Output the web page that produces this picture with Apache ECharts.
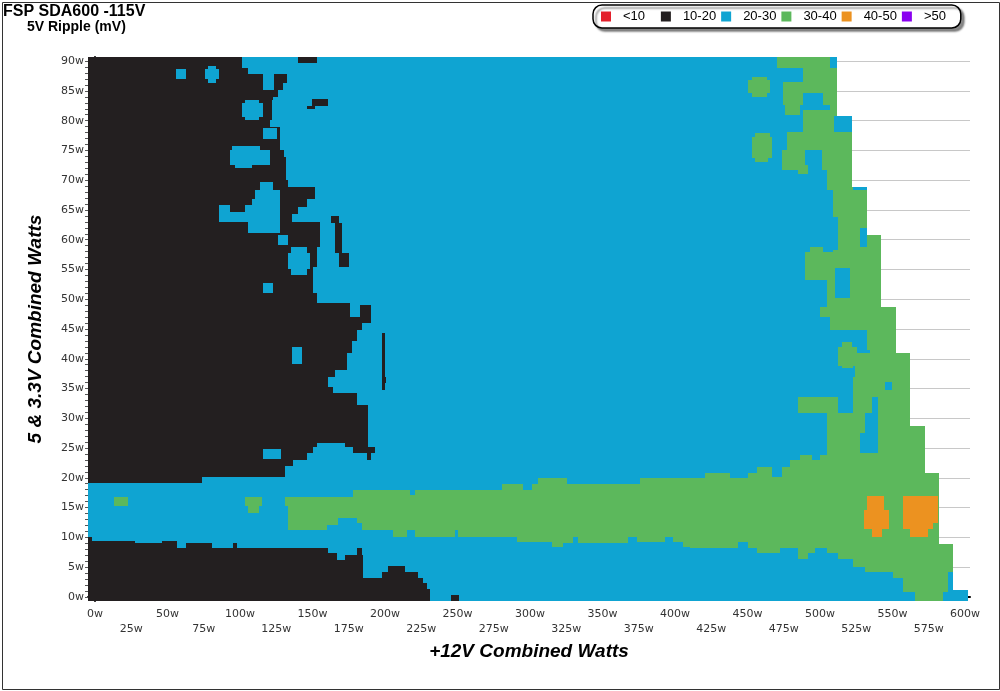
<!DOCTYPE html>
<html>
<head>
<meta charset="utf-8">
<script src="https://cdn.jsdelivr.net/npm/echarts@6/dist/echarts.min.js"></script>
<style>
html,body{margin:0;padding:0;background:#fff;}
#c{width:1000px;height:691px;}
</style>
</head>
<body>
<div id="c"></div>
<script>
// ---- categories / legend ----
const categories = ['<10', '10-20', '20-30', '30-40', '40-50', '>50'];
const catColors = ['#e3202c', '#231f20', '#0fa4d2', '#5cb85c', '#ec9220', '#8a00f0'];

// ---- tick labels ----
const xLabelValues = [0,25,50,75,100,125,150,175,200,225,250,275,300,325,350,375,400,425,450,475,500,525,550,575,600];
const yLabelValues = [0,5,10,15,20,25,30,35,40,45,50,55,60,65,70,75,80,85,90];

// ---- cells: [x0 (W), x1 (W), y0 (W), y1 (W)] ----
// 20-30 mV region (base of measured area)
const blueBase = [
  [-4.8, 511.5, 80.8, 90.7],
  [-4.8, 521.8, 68.9, 80.8],
  [-4.8, 532.2, 60.8, 68.9],
  [-4.8, 542.1, 48.7, 60.8],
  [-4.8, 552.2, 40.9, 48.7],
  [-4.8, 562.1, 28.7, 40.9],
  [-4.8, 572.2, 20.8, 28.7],
  [-4.8, 582.1, 8.9, 20.8],
  [-4.8, 592.0, 1.1, 8.9],
  [-4.8, 602.0, -0.7, 1.1]
];
// 10-20 mV region
const blackCells = [
  [-4.8, 101.2, 88.8, 90.7],
  [-4.8, 105.7, 87.9, 88.8],
  [-4.8, 115.7, 85.1, 87.9],
  [123.7, 132.2, 86.3, 87.9],
  [123.7, 129.7, 85.1, 86.3],
  [-4.8, 126.2, 84.0, 85.1],
  [-4.8, 122.8, 83.5, 84.0],
  [-4.8, 121.9, 80.1, 83.5],
  [-4.8, 120.7, 79.0, 80.1],
  [-4.8, 127.6, 75.1, 79.0],
  [-4.8, 130.3, 73.9, 75.1],
  [-4.8, 131.5, 70.0, 73.9],
  [-4.8, 133.3, 68.9, 70.0],
  [-4.8, 151.7, 66.9, 68.9],
  [-4.8, 146.0, 65.5, 66.9],
  [-4.8, 140.2, 64.4, 65.5],
  [-4.8, 135.7, 63.0, 64.4],
  [-4.8, 155.2, 58.8, 63.0],
  [-4.8, 152.9, 55.5, 58.8],
  [-4.8, 150.6, 51.0, 55.5],
  [-4.8, 152.9, 49.3, 51.0],
  [-4.8, 175.9, 47.1, 49.3],
  [182.8, 190.3, 46.0, 49.0],
  [-4.8, 183.9, 44.8, 47.1],
  [-4.8, 180.5, 42.9, 44.8],
  [-4.8, 177.0, 40.9, 42.9],
  [-4.8, 173.6, 38.1, 40.9],
  [-4.8, 165.5, 37.0, 38.1],
  [-4.8, 160.9, 35.3, 37.0],
  [-4.8, 164.3, 34.2, 35.3],
  [-4.8, 180.5, 32.2, 34.2],
  [-4.8, 188.5, 25.8, 32.2],
  [-4.8, 152.9, 25.2, 25.8],
  [172.4, 188.5, 25.2, 25.8],
  [-4.8, 150.6, 24.1, 25.2],
  [178.2, 193.1, 24.1, 25.2],
  [-4.8, 146.0, 23.0, 24.1],
  [187.8, 190.1, 23.0, 24.1],
  [-4.8, 136.8, 21.9, 23.0],
  [-4.8, 131.0, 20.1, 21.9],
  [-4.8, 73.6, 19.1, 20.1],
  // small islands
  [140.0, 153.1, 89.7, 90.7],
  [149.4, 160.9, 82.5, 83.6],
  [146.0, 151.7, 81.9, 82.5],
  [162.8, 168.3, 62.8, 64.0],
  [165.5, 170.3, 57.8, 62.8],
  [168.3, 175.2, 55.4, 57.8],
  [197.7, 200.0, 34.8, 44.3],
  [197.7, 200.7, 35.9, 37.0],
  // lower region
  [-4.8, -2.3, -0.7, 10.1],
  [-2.3, 27.6, -0.7, 9.3],
  [27.6, 46.0, -0.7, 9.1],
  [46.0, 56.3, -0.7, 9.3],
  [56.3, 62.8, -0.7, 8.2],
  [62.8, 80.5, -0.7, 9.1],
  [80.5, 95.4, -0.7, 8.2],
  [95.4, 97.7, -0.7, 9.1],
  [97.7, 160.9, -0.7, 8.2],
  [160.9, 166.7, -0.7, 7.3],
  [166.7, 172.4, -0.7, 6.2],
  [172.4, 180.5, -0.7, 7.05],
  [180.5, 183.9, -0.7, 8.2],
  [183.9, 185.0, -0.7, 7.05],
  [185.0, 197.7, -0.7, 3.1],
  [197.7, 202.1, -0.7, 4.25],
  [202.1, 213.8, -0.7, 5.1],
  [213.8, 222.8, -0.7, 4.25],
  [222.8, 226.2, -0.7, 3.1],
  [226.2, 228.8, -0.7, 2.3],
  [228.8, 231.0, -0.7, 1.3],
  [245.3, 251.0, -0.7, 0.3]
];
// 20-30 mV islands inside the 10-20 region
const blueIslands = [
  [55.9, 62.8, 87.0, 88.65],
  [75.9, 85.7, 87.0, 88.6],
  [78.0, 83.5, 86.4, 89.15],
  [103.5, 113.4, 82.9, 83.45],
  [101.2, 115.7, 80.7, 82.9],
  [103.5, 113.4, 80.1, 80.7],
  [116.1, 125.3, 77.0, 78.7],
  [94.3, 113.8, 75.05, 75.7],
  [93.1, 120.7, 72.6, 75.05],
  [96.6, 108.1, 72.0, 72.6],
  [113.8, 123.0, 68.3, 69.7],
  [110.3, 127.6, 66.9, 68.3],
  [108.1, 127.6, 65.8, 66.9],
  [85.7, 93.1, 64.7, 65.8],
  [103.4, 127.6, 64.7, 65.8],
  [85.7, 127.6, 63.0, 64.7],
  [105.7, 127.6, 61.1, 63.0],
  [126.4, 133.3, 59.1, 60.8],
  [135.5, 146.0, 57.7, 58.8],
  [133.3, 148.3, 55.0, 57.7],
  [135.5, 146.0, 54.1, 55.0],
  [116.1, 123.0, 51.1, 52.7],
  [136.1, 143.0, 39.2, 41.9],
  [116.1, 128.1, 23.1, 24.85]
];
// 30-40 mV region
const greenCells = [
  [13.3, 23.0, 15.2, 16.8],
  [103.4, 115.4, 15.2, 16.8],
  [105.7, 113.1, 14.15, 15.2],
  [131.0, 133.3, 15.2, 16.8],
  // band, upper part
  [133.3, 178.1, 14, 16.84],
  [178.1, 217.2, 14, 17.9],
  [217.2, 220.7, 14, 17.13],
  [220.7, 280.5, 14, 17.97],
  [280.5, 295.4, 14, 18.97],
  [295.4, 301.2, 14, 17.97],
  [301.2, 305.7, 14, 18.97],
  [305.7, 325.3, 14, 19.93],
  [325.3, 375.9, 14, 18.97],
  [375.9, 420.7, 14, 19.93],
  [420.7, 437.9, 14, 20.77],
  [437.9, 450.6, 14, 19.93],
  [450.6, 456.3, 14, 20.77],
  [456.3, 466.7, 14, 21.88],
  [466.7, 473.6, 14, 20.2],
  [473.6, 479.3, 14, 21.88],
  [479.3, 486.2, 14, 23.0],
  [486.2, 494.3, 14, 23.84],
  [494.3, 500.0, 14, 23.0],
  [500.0, 504.6, 14, 23.84],
  // band, lower part
  [133.3, 159.8, 11.25, 14],
  [159.8, 167.8, 12.09, 14],
  [167.8, 180.5, 13.21, 14],
  [180.5, 183.9, 12.37, 14],
  [183.9, 205.7, 11.2, 14],
  [205.7, 215.0, 10.12, 14],
  [215.0, 220.7, 11.25, 14],
  [220.7, 248.3, 10.12, 14],
  [248.3, 250.6, 11.25, 14],
  [250.6, 290.8, 10.12, 14],
  [290.8, 315.0, 9.28, 14],
  [315.0, 323.0, 8.34, 14],
  [323.0, 329.9, 9.12, 14],
  [329.9, 333.3, 10.12, 14],
  [333.3, 367.8, 9.12, 14],
  [367.8, 373.6, 10.12, 14],
  [373.6, 393.1, 9.28, 14],
  [393.1, 398.8, 10.12, 14],
  [398.8, 405.7, 9.28, 14],
  [405.7, 410.3, 8.34, 14],
  [410.3, 443.7, 8.18, 14],
  [443.7, 450.6, 9.28, 14],
  [450.6, 456.3, 8.18, 14],
  [456.3, 472.4, 7.34, 14],
  [472.4, 485.0, 8.18, 14],
  [485.0, 491.9, 6.33, 14],
  [491.9, 496.6, 7.34, 14],
  [496.6, 504.6, 8.18, 14],
  // right columns
  [504.6, 512.6, 7.34, 20.8],
  [512.6, 523.0, 6.33, 20.8],
  [523.0, 531.0, 5.09, 20.8],
  [531.0, 550.6, 4.25, 20.8],
  [550.6, 557.5, 3.14, 20.8],
  [557.5, 565.5, 0.89, 20.8],
  [565.5, 582.1, -0.7, 20.8],
  [582.1, 585.1, -0.7, 8.9],
  [585.1, 588.5, 0.89, 8.9],
  [588.5, 592.0, 4.25, 8.9],
  // right structure
  [470.6, 506.9, 88.8, 90.7],
  [488.5, 511.5, 86.5, 88.8],
  [474.7, 511.5, 84.6, 86.5],
  [474.7, 488.5, 82.6, 84.6],
  [502.3, 511.5, 82.6, 84.6],
  [475.9, 486.2, 80.9, 82.6],
  [506.9, 511.5, 80.8, 82.6],
  [488.0, 509.7, 78.1, 81.8],
  [477.0, 521.8, 75.05, 78.1],
  [473.6, 489.7, 71.7, 75.05],
  [501.2, 521.8, 71.7, 75.05],
  [504.6, 521.8, 68.9, 71.7],
  [504.6, 522.5, 68.3, 68.9],
  [509.2, 532.2, 63.85, 68.3],
  [512.6, 532.2, 61.9, 63.85],
  [512.6, 527.6, 60.8, 61.9],
  [512.6, 527.6, 58.8, 60.8],
  [532.2, 542.1, 58.8, 60.8],
  [512.6, 542.1, 58.3, 58.8],
  [509.2, 542.1, 55.2, 58.3],
  [504.6, 510.3, 50.15, 55.2],
  [520.7, 542.1, 50.15, 55.2],
  [493.1, 502.3, 57.9, 58.8],
  [489.7, 509.2, 53.2, 57.9],
  [504.6, 542.1, 48.7, 50.15],
  [500.0, 552.2, 47.06, 48.7],
  [507.0, 552.2, 44.83, 47.06],
  [532.2, 552.2, 41.47, 44.83],
  [534.5, 552.2, 40.9, 41.47],
  [515.0, 522.0, 42.0, 42.87],
  [512.6, 525.3, 38.8, 42.0],
  [514.9, 523.0, 38.4, 38.8],
  [524.1, 562.1, 37.0, 40.9],
  [523.0, 562.1, 36.1, 37.0],
  [523.0, 544.8, 34.75, 36.1],
  [549.4, 562.1, 34.75, 36.1],
  [523.0, 562.1, 33.63, 34.75],
  [485.0, 512.6, 30.84, 33.63],
  [523.0, 535.6, 30.84, 33.63],
  [540.2, 562.1, 30.84, 33.63],
  [504.6, 531.0, 28.7, 30.84],
  [540.2, 562.1, 28.7, 30.84],
  [504.6, 531.0, 27.48, 28.7],
  [540.2, 572.2, 27.48, 28.7],
  [504.6, 527.6, 24.13, 27.48],
  [540.2, 572.2, 24.13, 27.48],
  [504.6, 572.2, 20.77, 24.13],
  // blobs
  [485.0, 491.9, 71.0, 72.5],
  [452.9, 463.2, 86.8, 87.4],
  [450.6, 465.5, 84.6, 86.8],
  [452.9, 463.2, 84.0, 84.6],
  [455.2, 465.5, 77.2, 77.9],
  [452.9, 466.7, 73.8, 77.2],
  [455.2, 464.4, 73.1, 73.8]
];
// 40-50 mV region
const orangeCells = [
  [532.6, 544.1, 14.6, 16.9],
  [530.6, 547.6, 11.4, 14.6],
  [535.6, 542.5, 10.1, 11.4],
  [557.0, 581.6, 12.4, 16.9],
  [557.0, 578.2, 11.4, 12.4],
  [562.0, 574.7, 10.1, 11.4]
];
const redCells = [];
const purpleCells = [];

// ---- build ----
const xTickValues = [];
for (let i = 0; i < xLabelValues.length - 1; i++) {
  const a = xLabelValues[i], b = xLabelValues[i + 1];
  xTickValues.push(a, a + (b - a) / 3, a + 2 * (b - a) / 3);
}
xTickValues.push(xLabelValues[xLabelValues.length - 1]);
const yMinorValues = [];
for (let v = yLabelValues[0]; v <= yLabelValues[yLabelValues.length - 1]; v++) yMinorValues.push(v);

function cellSeries(name, data, color) {
  return {
    type: 'custom',
    name: name,
    coordinateSystem: 'cartesian2d',
    dimensions: ['x0', 'x1', 'y0', 'y1'],
    encode: { x: [0, 1], y: [2, 3] },
    clip: false,
    silent: true,
    itemStyle: { color: color },
    data: data,
    renderItem: function (params, api) {
      const a = api.coord([api.value(0), api.value(3)]);
      const b = api.coord([api.value(1), api.value(2)]);
      const x = Math.round(a[0]), y = Math.round(a[1]);
      return {
        type: 'rect',
        shape: { x: x, y: y, width: Math.round(b[0]) - x, height: Math.round(b[1]) - y },
        style: { fill: color }
      };
    }
  };
}

const chart = echarts.init(document.getElementById('c'), null, { renderer: 'canvas' });
const labelFont = 'DejaVu Sans';
chart.setOption({
  animation: false,
  backgroundColor: '#fff',
  title: [
    { text: 'FSP SDA600 -115V', left: 3, top: 4, padding: 0,
      textStyle: { fontFamily: 'Liberation Sans', fontWeight: 'bold', fontSize: 16, color: '#000' } },
    { text: '5V Ripple (mV)', left: 27, top: 20, padding: 0,
      textStyle: { fontFamily: 'Liberation Sans', fontWeight: 'bold', fontSize: 14, color: '#000' } }
  ],
  legend: {
    data: categories,
    left: 593, top: 5,
    orient: 'horizontal',
    icon: 'rect',
    itemWidth: 10, itemHeight: 10, itemGap: 5,
    padding: [5, 4, 5, 8],
    backgroundColor: '#fff',
    borderColor: '#000', borderWidth: 1.5, borderRadius: 9,
    shadowColor: 'rgba(0,0,0,0.45)', shadowBlur: 2, shadowOffsetX: 3, shadowOffsetY: 3,
    selectedMode: false,
    formatter: function (name) { return name.length < 5 ? name + '\u00a0\u00a0\u00a0' : name; },
    textStyle: { fontFamily: 'Liberation Sans', fontSize: 13, color: '#000', padding: [0, 0, 0, 7] }
  },
  grid: { left: 88, right: 30, top: 57, bottom: 90, containLabel: false },
  xAxis: {
    type: 'value', min: -4.8, max: 603.4,
    axisLine: { show: true, lineStyle: { color: '#000', width: 2 } },
    axisTick: { show: true, customValues: xTickValues, length: 4, lineStyle: { color: '#000', width: 1 } },
    axisLabel: {
      customValues: xLabelValues,
      formatter: function (v) { return (Math.round(v / 25) % 2 === 1 ? '\n' : '') + v + 'w'; },
      fontFamily: labelFont, fontSize: 11, color: '#333', lineHeight: 15, margin: 6
    },
    splitLine: { show: false },
    name: '+12V Combined Watts', nameLocation: 'middle', nameGap: 38,
    nameTextStyle: { fontFamily: 'Liberation Sans', fontWeight: 'bold', fontStyle: 'italic', fontSize: 19, color: '#000' }
  },
  yAxis: [{
    type: 'value', min: -0.7, max: 90.7,
    axisLine: { show: true, lineStyle: { color: '#000', width: 2 } },
    axisTick: { show: true, customValues: yLabelValues, length: 5, lineStyle: { color: '#555', width: 1 } },
    axisLabel: {
      customValues: yLabelValues,
      formatter: function (v) { return v + 'w'; },
      fontFamily: labelFont, fontSize: 11, color: '#333', margin: 4
    },
    splitLine: { show: true, lineStyle: { color: '#c8c8c8', width: 1 } },
    name: '5 & 3.3V Combined Watts', nameLocation: 'middle', nameGap: 43,
    nameTextStyle: { fontFamily: 'Liberation Sans', fontWeight: 'bold', fontStyle: 'italic', fontSize: 19, color: '#000' }
  }, {
    type: 'value', min: -0.7, max: 90.7, position: 'left',
    axisLine: { show: false },
    axisTick: { show: true, customValues: yMinorValues, length: 3, lineStyle: { color: '#555', width: 1 } },
    axisLabel: { show: false },
    splitLine: { show: false }
  }],
  graphic: [{
    type: 'rect', left: 0, top: 0, silent: true,
    shape: { x: 0, y: 0, width: 997, height: 687 },
    style: { fill: 'none', stroke: '#333', lineWidth: 1 }
  }],
  series: [
    cellSeries('20-30', blueBase, catColors[2]),
    cellSeries('10-20', blackCells, catColors[1]),
    cellSeries('20-30', blueIslands, catColors[2]),
    cellSeries('30-40', greenCells, catColors[3]),
    cellSeries('40-50', orangeCells, catColors[4]),
    cellSeries('<10', redCells, catColors[0]),
    cellSeries('>50', purpleCells, catColors[5])
  ]
});
</script>
</body>
</html>
